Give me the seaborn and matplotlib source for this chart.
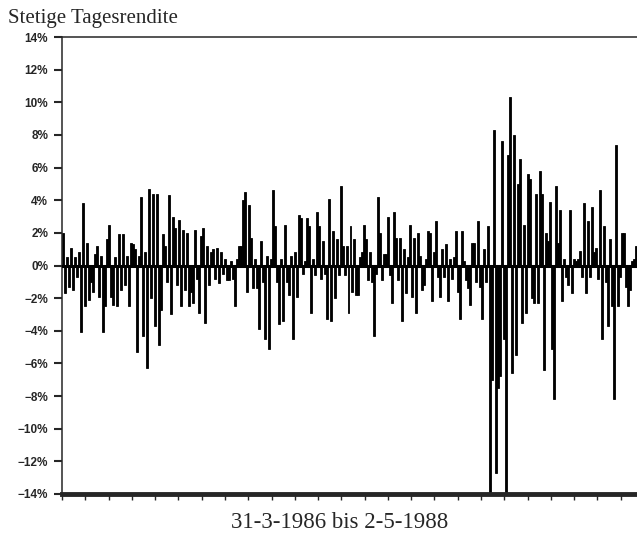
import numpy as np
import pandas as pd
import matplotlib
matplotlib.use("Agg")
import matplotlib.pyplot as plt
import seaborn as sns

# Stetige Tagesrendite in % (one value per ~2 px column, left to right)
returns_pct = [
    2.0, -1.7, 0.5, -1.3, 1.1,
    -1.5, 0.5, -0.7, 0.8, -4.1,
    3.8, -2.5, 1.4, -2.1, -1.0,
    -1.6, 0.7, 1.2, -1.9, 0.6,
    -4.1, -2.5, 1.6, 2.5, -1.9,
    -2.4, 0.5, -2.5, 1.9, -1.5,
    1.9, -1.2, 0.6, -2.5, 1.4,
    1.3, 1.0, -5.3, 0.6, 4.2,
    -4.3, 0.8, -6.3, 4.7, -2.0,
    4.4, -3.7, 4.4, -4.9, -2.7,
    1.9, 1.2, -1.0, 4.3, -3.0,
    3.0, 2.3, -1.2, 2.8, -2.5,
    2.2, -1.5, 2.0, -2.5, -1.6,
    -2.3, 2.2, -0.8, -2.9, 1.8,
    2.3, -3.5, 1.2, -1.2, 0.8,
    1.0, -0.8, 1.1, -1.1, 0.8,
    -0.5, 0.4, -0.9, -0.9, 0.3,
    -0.8, -2.5, 0.4, 1.2, 1.2,
    4.0, 4.5, -1.6, 3.7, 1.7,
    -1.4, 0.4, -1.4, -3.9, 1.5,
    -1.0, -4.5, 0.6, -5.1, 0.4,
    4.6, 2.4, -1.0, -3.6, 0.4,
    -3.4, 2.5, -1.0, -1.8, 0.6,
    -4.5, 0.8, -1.9, 3.1, 2.9,
    -0.5, 0.3, 2.9, 2.4, -2.9,
    0.4, -0.6, 3.3, 2.4, -0.8,
    1.5, -0.5, -3.3, 4.1, -3.4,
    2.1, -2.0, 1.6, -0.6, 4.9,
    1.2, -0.6, 1.2, -2.9, 2.4,
    -1.6, 1.6, -1.8, -1.8, 0.5,
    0.8, 2.5, 1.6, -0.9, 0.8,
    -1.0, -4.3, -0.5, 4.2, 2.0,
    -0.9, 0.7, 0.7, 3.0, -0.6,
    -2.3, 3.3, 1.7, -0.9, 1.7,
    -3.4, 1.0, -1.7, 0.5, 2.5,
    -1.9, 1.7, -2.9, 2.0, 0.6,
    -1.5, -1.2, 0.4, 2.1, 2.0,
    -2.2, 0.8, 2.7, -0.7, -1.9,
    1.0, -0.7, 1.3, -2.2, 0.4,
    -0.8, 0.5, 2.1, -1.6, -3.3,
    2.1, 0.3, -0.9, -1.4, -2.4,
    1.4, 1.4, -1.0, 2.7, -1.3,
    -3.3, 1.0, -1.0, 2.4, -14.0,
    -7.0, 8.3, -12.7, -7.5, -6.8,
    7.6, -4.5, -14.0, 6.8, 10.3,
    -6.6, 8.0, -5.5, 5.0, 6.5,
    -3.5, 2.5, -2.9, 5.6, 5.3,
    -2.0, -2.3, 4.4, -2.3, 5.8,
    4.4, -6.4, 2.0, 1.5, 3.9,
    -5.1, -8.2, 4.9, 1.4, 3.4,
    -2.2, 0.4, -0.7, -1.2, 3.4,
    -1.7, 0.4, 0.3, 0.4, 0.9,
    -0.7, 3.8, -1.7, 2.7, -0.7,
    3.6, 0.8, 1.1, -0.8, 4.6,
    -4.5, 2.4, -1.0, -3.7, 1.6,
    -2.5, -8.2, 7.4, -2.5, -0.7,
    2.0, 2.0, -1.3, -2.5, -1.5,
    0.3, 0.4, 1.2,
]

y_ticks = list(range(-14, 15, 2))
y_tick_labels = [f"{v}%".replace("-", "\u2212") for v in y_ticks]
n_months = 24.7  # monthly tick marks between 31-3-1986 and 2-5-1988

title_text = "Stetige Tagesrendite"
xlabel_text = "31-3-1986 bis 2-5-1988"

n = len(returns_pct)
df = pd.DataFrame({"t": np.arange(n), "r": returns_pct})

sns.set_style("ticks")
plt.rcParams["font.family"] = ["Liberation Sans", "DejaVu Sans"]

fig = plt.figure(figsize=(6.37, 5.39), dpi=100)
ax = fig.add_axes([62 / 637, 1 - 494 / 539, 1 - 62 / 637, (494 - 37) / 539])

sns.barplot(data=df, x="t", y="r", native_scale=True, color="black",
            width=1.0, linewidth=0.6, edgecolor="black", saturation=1, ax=ax)

ax.axhline(0, color="black", lw=2.2, zorder=5)
ax.set_xlim(-0.5, n - 0.5)
ax.set_ylim(-14, 14)
ax.set_yticks(y_ticks)
ax.set_yticklabels(y_tick_labels, fontsize=8.5, fontweight="bold")
step = n / n_months
ax.set_xticks(np.arange(-0.5, n, step))
ax.set_xticklabels([])
ax.set_xlabel("")
ax.set_ylabel("")
ax.tick_params(axis="y", direction="out", length=6, width=1.5, pad=4)
ax.tick_params(axis="x", direction="out", length=4, width=1)

for side in ["left", "top"]:
    ax.spines[side].set_visible(True)
    ax.spines[side].set_linewidth(1.1)
ax.spines["right"].set_visible(False)
ax.spines["bottom"].set_linewidth(3.5)

fig.text(8 / 637, 1 - 18 / 539, title_text, fontsize=15,
         family=["Liberation Serif", "DejaVu Serif"], ha="left", va="center")
fig.text(340 / 637, 1 - 523 / 539, xlabel_text, fontsize=16.5,
         family=["Liberation Serif", "DejaVu Serif"], ha="center", va="center")

fig.savefig("out.png", dpi=100)
